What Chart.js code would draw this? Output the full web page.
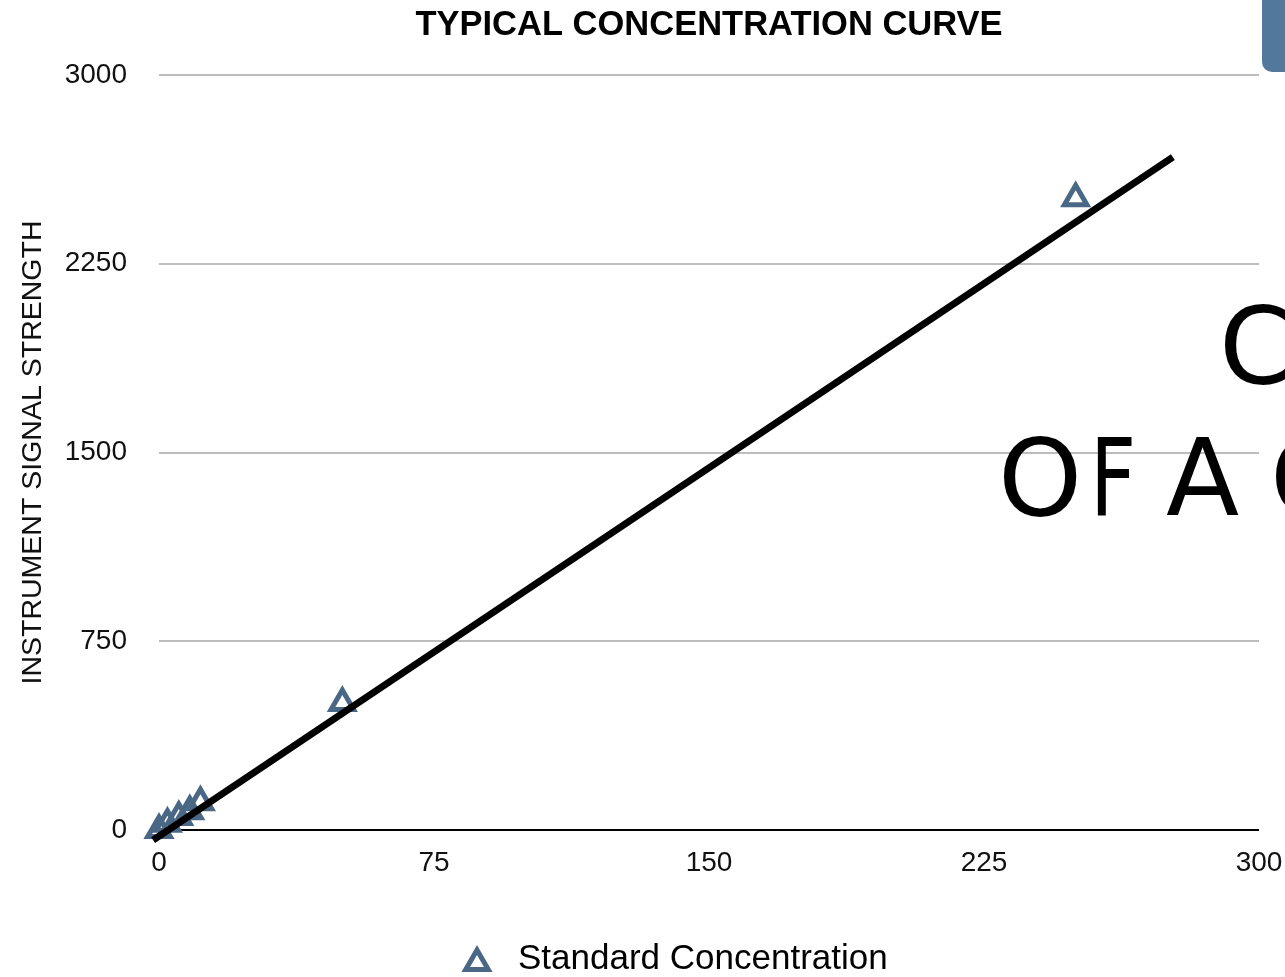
<!DOCTYPE html>
<html>
<head>
<meta charset="utf-8">
<script src="https://cdn.jsdelivr.net/npm/chart.js@4/dist/chart.umd.min.js"></script>
<style>
  html, body { margin: 0; padding: 0; background: #fff; overflow: hidden; }
  #wrap { position: relative; width: 1285px; height: 977px; overflow: hidden; }
  .overlay {
    position: absolute; font-family: "DejaVu Sans", sans-serif;
    font-size: 107px; line-height: 1; color: #000; white-space: nowrap;
  }
  #badge {
    position: absolute; left: 1262px; top: -12px; width: 40px; height: 84px;
    background: #52789c; border-radius: 10px;
  }
</style>
</head>
<body>
<div id="wrap">
  <canvas id="chart"></canvas>
  <div class="overlay" style="left:1219px; top:293px;">C</div>
  <div class="overlay" style="left:998px; top:425px;">O</div>
  <div class="overlay" style="left:1090px; top:425px; transform:scaleX(0.75); transform-origin:left;">F</div>
  <div class="overlay" style="left:1166px; top:425px;">A</div>
  <div class="overlay" style="left:1270px; top:425px;">C</div>
  <div id="badge"></div>
</div>
<script>
'use strict';

// Data
const concentration = [0, 2.3, 5.4, 8.4, 11.3, 50, 250];
const signalStrength = [0, 25, 52, 75, 110, 505, 2510];
const fitX = [-1.6, 276.5];
const fitY = [-40, 2674];
const xTicks = [0, 75, 150, 225, 300];
const yTicks = [0, 750, 1500, 2250, 3000];

const MARKER = '#4a6885';
const FONT = '"Liberation Sans", Arial, sans-serif';

// Title and legend drawn relative to the plot area
const decorPlugin = {
  id: 'decor',
  afterDraw(chart) {
    const { ctx, chartArea } = chart;
    ctx.save();
    ctx.fillStyle = '#000';
    ctx.textAlign = 'center';
    ctx.textBaseline = 'middle';
    ctx.font = `bold 34.5px ${FONT}`;
    ctx.fillText('TYPICAL CONCENTRATION CURVE', (chartArea.left + chartArea.right) / 2, 25);

    // legend
    const lx = 477, ly = 963, r = 13;
    ctx.beginPath();
    for (let i = 0; i < 3; i++) {
      const a = i * 2 * Math.PI / 3;
      const px = lx + Math.sin(a) * r, py = ly - Math.cos(a) * r;
      if (i === 0) ctx.moveTo(px, py); else ctx.lineTo(px, py);
    }
    ctx.closePath();
    ctx.lineWidth = 5;
    ctx.strokeStyle = MARKER;
    ctx.stroke();
    ctx.textAlign = 'left';
    ctx.font = `35px ${FONT}`;
    ctx.fillText('Standard Concentration', 518, 959);
    ctx.restore();
  },
};

const points = concentration.map((x, i) => ({ x, y: signalStrength[i] }));
const fitLine = fitX.map((x, i) => ({ x, y: fitY[i] }));

new Chart(document.getElementById('chart'), {
  type: 'scatter',
  data: {
    datasets: [
      {
        label: 'Standard Concentration',
        data: points,
        pointStyle: 'triangle',
        pointRadius: 13,
        pointBorderWidth: 5,
        pointBorderColor: MARKER,
        pointBackgroundColor: 'rgba(0,0,0,0)',
        clip: false,
        order: 2,
      },
      {
        label: 'fit',
        data: fitLine,
        showLine: true,
        borderColor: '#000',
        borderWidth: 7,
        pointRadius: 0,
        clip: false,
        order: 1,
      },
    ],
  },
  options: {
    responsive: true,
    maintainAspectRatio: false,
    animation: false,
    layout: { padding: { top: 75, right: 26, bottom: 0, left: 0 } },
    plugins: {
      legend: { display: false },
      title: { display: false },
      tooltip: { enabled: false },
    },
    scales: {
      x: {
        type: 'linear',
        min: 0,
        max: 300,
        afterBuildTicks: (scale) => { scale.ticks = xTicks.map((v) => ({ value: v })); },
        afterFit: (scale) => {
          scale.height = 147;
          scale.paddingLeft = 0;
          scale.paddingRight = 0;
        },
        grid: { display: false, drawTicks: false },
        border: { display: false },
        ticks: {
          padding: 16,
          color: '#111',
          font: { family: FONT, size: 28 },
          callback: (v) => String(v),
        },
      },
      y: {
        type: 'linear',
        min: 0,
        max: 3000,
        afterBuildTicks: (scale) => { scale.ticks = yTicks.map((v) => ({ value: v })); },
        afterFit: (scale) => { scale.width = 159; },
        grid: {
          drawTicks: false,
          lineWidth: 2,
          color: (ctx) => (ctx.tick && ctx.tick.value === 0 ? '#000' : '#bdbdbd'),
        },
        border: { display: false },
        ticks: {
          padding: 32,
          color: '#111',
          font: { family: FONT, size: 28 },
          callback: (v) => String(v),
        },
        title: {
          display: true,
          text: 'INSTRUMENT SIGNAL STRENGTH',
          color: '#111',
          padding: { top: 16, bottom: 0 },
          font: { family: FONT, size: 28.5 },
        },
      },
    },
  },
  plugins: [decorPlugin],
});
</script>
</body>
</html>
